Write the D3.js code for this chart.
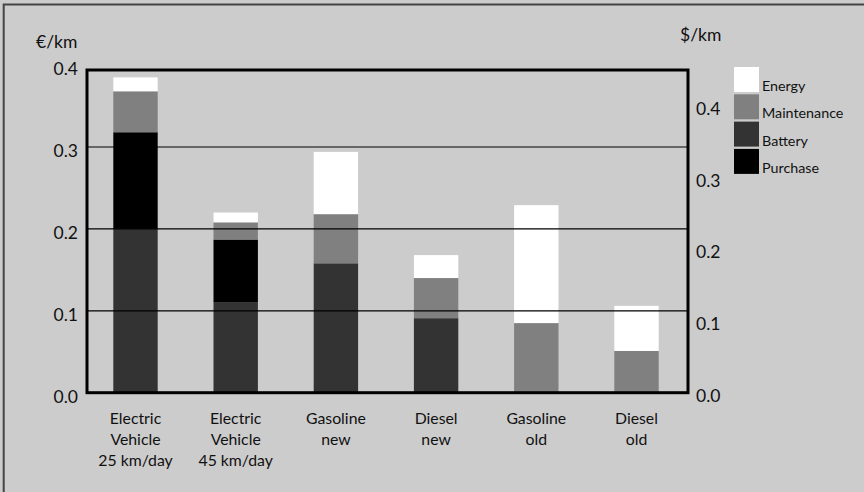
<!DOCTYPE html>
<html>
<head>
<meta charset="utf-8"/>
<script src="https://d3js.org/d3.v7.min.js"></script>
<style>
  body { margin: 0; background: #cccccc; }
  text { font-family: Lato, "Open Sans", sans-serif; fill: #111; }
</style>
</head>
<body>
<svg id="chart" width="864" height="492"></svg>
<script>
// categories, each label split in lines
let categories = ["EV25", "EV45", "GasNew", "DieselNew", "GasOld", "DieselOld"];
let catLabels = [
    ["Electric", "Vehicle", "25 km/day"],
    ["Electric", "Vehicle", "45 km/day"],
    ["Gasoline", "new"],
    ["Diesel", "new"],
    ["Gasoline", "old"],
    ["Diesel", "old"]
];

// series values in €/km, stacked bottom to top
let battery     = [0.200, 0.110, 0.158, 0.091, 0, 0];
let purchase    = [0.118, 0.077, 0, 0, 0, 0];
let maintenance = [0.050, 0.021, 0.060, 0.049, 0.085, 0.051];
let energy      = [0.017, 0.012, 0.076, 0.028, 0.144, 0.055];

let stackKeys = ["Battery", "Purchase", "Maintenance", "Energy"];
let legendKeys = ["Energy", "Maintenance", "Battery", "Purchase"];
let colors = {Energy: "#ffffff", Maintenance: "#808080", Battery: "#333333", Purchase: "#000000"};

let leftTicks = [0, 0.1, 0.2, 0.3, 0.4];
let rightTicks = [0, 0.1, 0.2, 0.3, 0.4];
let gridTicks = [0.1, 0.2, 0.3];

let rows = categories.map(function(c, i) {
    return {cat: c, Battery: battery[i], Purchase: purchase[i],
            Maintenance: maintenance[i], Energy: energy[i]};
});

let svg = d3.select("#chart");
let plotL = 87, plotR = 688, plotT = 70, plotB = 392.7;

// background + outer border (only top/left show in the frame)
svg.append("rect").attr("width", 864).attr("height", 492).attr("fill", "#cccccc");
svg.append("rect")
    .attr("x", 3.7).attr("y", 4.5).attr("width", 900).attr("height", 600)
    .attr("fill", "none").attr("stroke", "#444").attr("stroke-width", 2);

let x = d3.scaleBand().domain(categories).range([87, 685])
    .paddingInner(0.557).paddingOuter(0.2625);
let yL = d3.scaleLinear().domain([0, 0.394]).range([plotB, plotT]);
let yR = d3.scaleLinear().domain([0, 0.45]).range([plotB, plotT]);

// bars
let series = d3.stack().keys(stackKeys)(rows);
svg.append("g").selectAll("g").data(series).join("g")
    .attr("fill", function(d) { return colors[d.key]; })
    .selectAll("rect").data(function(d) { return d; }).join("rect")
    .attr("x", function(d) { return x(d.data.cat); })
    .attr("width", x.bandwidth())
    .attr("y", function(d) { return yL(d[1]); })
    .attr("height", function(d) { return yL(d[0]) - yL(d[1]); });

// grid lines on top of bars
svg.append("g").selectAll("line").data(gridTicks).join("line")
    .attr("x1", plotL).attr("x2", plotR)
    .attr("y1", function(d) { return yL(d); })
    .attr("y2", function(d) { return yL(d); })
    .attr("stroke", "#000").attr("stroke-width", 1.2);

// frame
svg.append("rect")
    .attr("x", plotL).attr("y", plotT)
    .attr("width", plotR - plotL).attr("height", plotB - plotT)
    .attr("fill", "none").attr("stroke", "#000").attr("stroke-width", 3);

// left axis
let axL = svg.append("g").attr("transform", "translate(78,0)")
    .call(d3.axisLeft(yL).tickValues(leftTicks).tickSize(0).tickPadding(0)
        .tickFormat(d3.format(".1f")));
axL.select(".domain").remove();
axL.selectAll("text").attr("dy", 9.5).style("font-size", "17.5px")
    .style("font-family", "Lato, sans-serif").attr("fill", "#111");

// right axis
let axR = svg.append("g").attr("transform", "translate(696,0)")
    .call(d3.axisRight(yR).tickValues(rightTicks).tickSize(0).tickPadding(0)
        .tickFormat(d3.format(".1f")));
axR.select(".domain").remove();
axR.selectAll("text").attr("dy", 8.5).style("font-size", "17.5px")
    .style("font-family", "Lato, sans-serif").attr("fill", "#111");

// unit labels
svg.append("text").text("€/km").attr("x", 36).attr("y", 48).style("font-size", "17.5px");
svg.append("text").text("$/km").attr("x", 680).attr("y", 41).style("font-size", "17.5px");

// category labels
let cl = svg.append("g").selectAll("text").data(categories).join("text")
    .attr("text-anchor", "middle")
    .attr("x", function(d) { return x(d) + x.bandwidth() / 2; })
    .attr("y", 423.5)
    .style("font-size", "15.8px");
cl.selectAll("tspan").data(function(d, i) { return catLabels[i]; }).join("tspan")
    .attr("x", function() { let c = this.parentNode.__data__; return x(c) + x.bandwidth() / 2; })
    .attr("dy", function(d, i) { return i == 0 ? 0 : 21; })
    .text(function(d) { return d; });

// legend
let lg = svg.append("g").selectAll("g").data(legendKeys).join("g")
    .attr("transform", function(d, i) { return "translate(734," + (67 + i * 27.3) + ")"; });
lg.append("rect").attr("width", 25).attr("height", 25)
    .attr("fill", function(d) { return colors[d]; });
lg.append("text").attr("x", 28).attr("y", 24).style("font-size", "14.3px")
    .text(function(d) { return d; });
</script>
</body>
</html>
